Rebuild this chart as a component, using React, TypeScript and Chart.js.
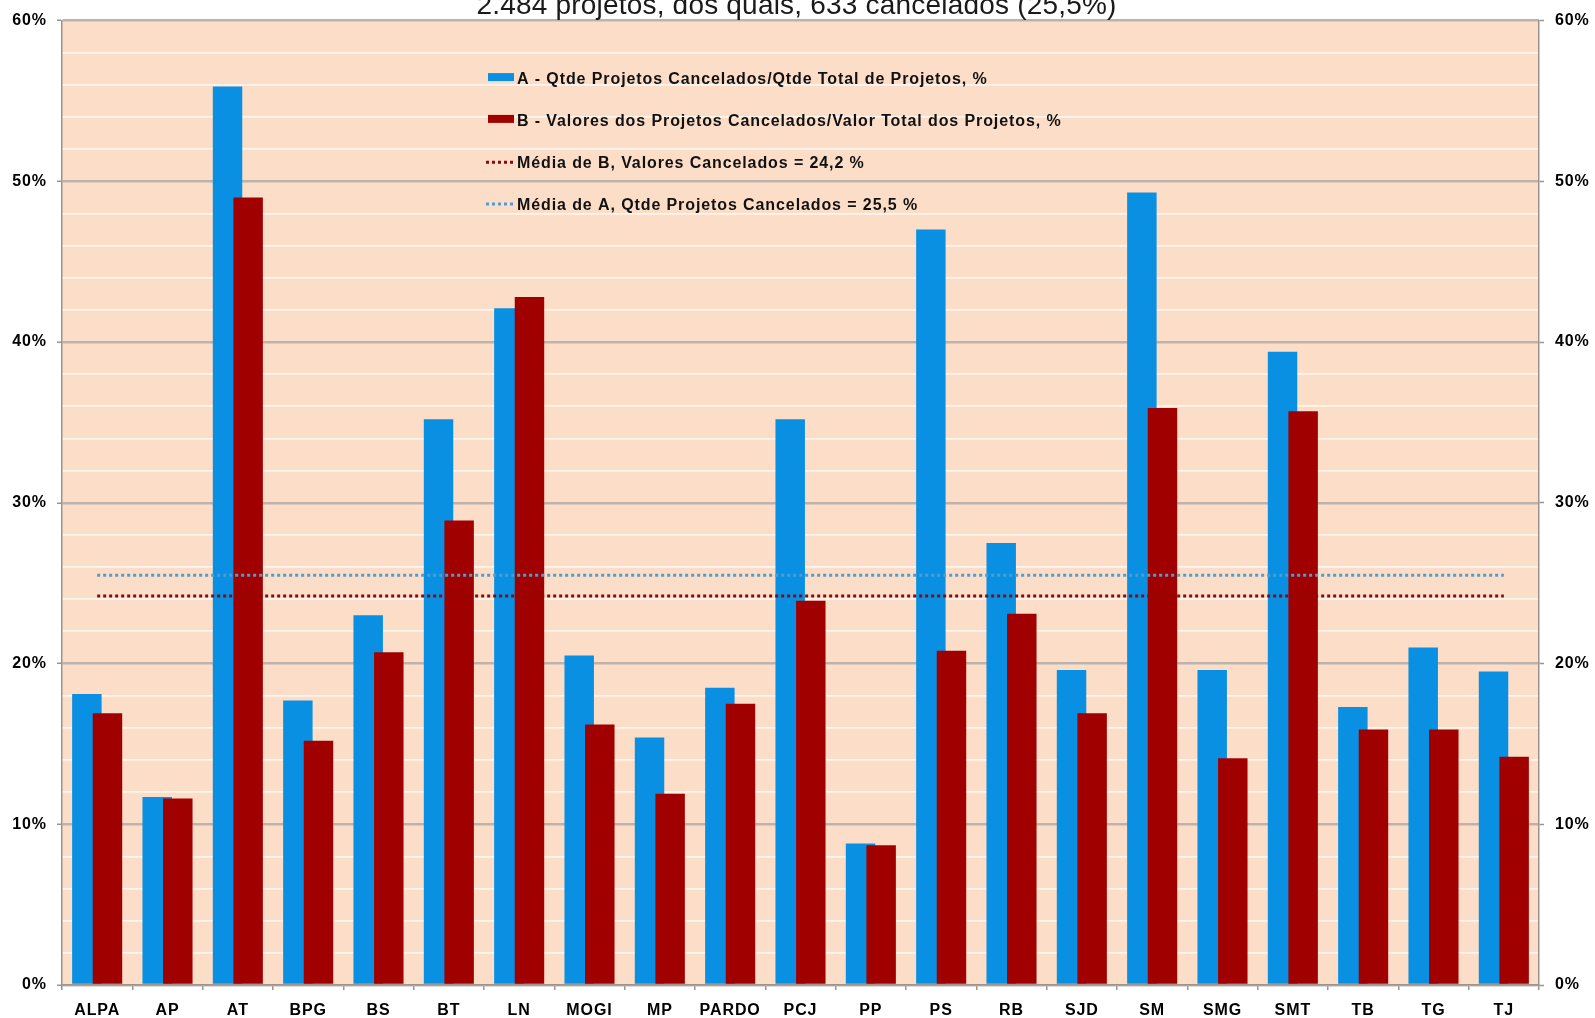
import React, { useEffect, useRef } from 'react';
import { Chart, registerables } from 'chart.js';

Chart.register(...registerables);

// ---------------- data ----------------
const categories = ['ALPA', 'AP', 'AT', 'BPG', 'BS', 'BT', 'LN', 'MOGI', 'MP', 'PARDO', 'PCJ', 'PP', 'PS', 'RB', 'SJD', 'SM', 'SMG', 'SMT', 'TB', 'TG', 'TJ'];
const seriesA = [18.1, 11.7, 55.9, 17.7, 23.0, 35.2, 42.1, 20.5, 15.4, 18.5, 35.2, 8.8, 47.0, 27.5, 19.6, 49.3, 19.6, 39.4, 17.3, 21.0, 19.5];
const seriesB = [16.9, 11.6, 49.0, 15.2, 20.7, 28.9, 42.8, 16.2, 11.9, 17.5, 23.9, 8.7, 20.8, 23.1, 16.9, 35.9, 14.1, 35.7, 15.9, 15.9, 14.2];
const meanA = 25.5;
const meanB = 24.2;
const yMin = 0;
const yMax = 60;
const yMajorStep = 10;
const yMinorStep = 2;

const titleText = '2.484 projetos, dos quais, 633 cancelados (25,5%)';
const labelA = 'A - Qtde Projetos Cancelados/Qtde Total de Projetos, %';
const labelB = 'B - Valores dos Projetos Cancelados/Valor Total dos Projetos, %';
const labelMeanB = 'Média de B, Valores Cancelados = ' + meanB.toFixed(1).replace('.', ',') + ' %';
const labelMeanA = 'Média de A, Qtde Projetos Cancelados = ' + meanA.toFixed(1).replace('.', ',') + ' %';

// ---------------- styles ----------------
const FONT = "'Liberation Sans', Arial, Helvetica, sans-serif";
const BLUE = '#0a90e2';
const RED = '#a10000';
const PEACH = '#fcdec8';
const GRID_MAJOR = '#bdb3ac';
const GRID_MINOR = '#fff5ec';
const AXIS = '#9a9490';
const MEAN_BLUE = '#4d9dd0';
const MEAN_RED = '#8c0808';
const LETTER = '0.9px';

const W = 1595;
const H = 1018;

const IDX_A = 0;
const IDX_B = 1;

const isMajor = (v: number) => Math.abs(v % yMajorStep) < 1e-9;

const setSpacing = (ctx: any) => {
  try { ctx.letterSpacing = LETTER; } catch (e) { /* ignore */ }
};

const decorPlugin = {
  id: 'decor',
  beforeLayout(chart: any) {
    setSpacing(chart.ctx);
  },
  beforeDraw(chart: any) {
    const { ctx, chartArea: a } = chart;
    setSpacing(ctx);
    ctx.save();
    ctx.fillStyle = '#ffffff';
    ctx.fillRect(0, 0, chart.width, chart.height);
    ctx.fillStyle = PEACH;
    ctx.fillRect(a.left, a.top, a.right - a.left, a.bottom - a.top);
    ctx.restore();
  },
  beforeDatasetDraw(chart: any, args: any) {
    if (args.index === IDX_B) return false;
    return true;
  },
  afterDatasetDraw(chart: any, args: any) {
    if (args.index === IDX_A) {
      const a = chart.chartArea;
      const ctx = chart.ctx;
      ctx.save();
      ctx.beginPath();
      ctx.rect(a.left, a.top, a.right - a.left, a.bottom - a.top);
      ctx.clip();
      chart.getDatasetMeta(IDX_B).controller.draw();
      ctx.restore();
    }
  },
  afterDraw(chart: any) {
    const ctx = chart.ctx;
    const a = chart.chartArea;
    ctx.save();
    // title (partly cut by the top edge)
    try { ctx.letterSpacing = '0.2px'; } catch (e) { /* ignore */ }
    ctx.font = `28px ${FONT}`;
    ctx.fillStyle = '#1a1a1a';
    ctx.textAlign = 'center';
    ctx.textBaseline = 'alphabetic';
    ctx.fillText(titleText, (a.left + a.right) / 2 - 4, 14);

    // legend inside the plot
    setSpacing(ctx);
    ctx.font = `bold 16px ${FONT}`;
    ctx.fillStyle = '#111111';
    ctx.textAlign = 'left';
    const sx = 488;
    const tx = 517;
    const rows = [
      { text: labelA, kind: 'box', color: BLUE },
      { text: labelB, kind: 'box', color: RED },
      { text: labelMeanB, kind: 'dot', color: MEAN_RED },
      { text: labelMeanA, kind: 'dot', color: MEAN_BLUE },
    ];
    const firstCenter = 78.6;
    const gap = 41.8;
    rows.forEach((r, i) => {
      const cy = firstCenter + i * gap;
      if (r.kind === 'box') {
        ctx.fillStyle = r.color;
        ctx.fillRect(sx, cy - 5.5, 26, 8);
      } else {
        ctx.strokeStyle = r.color;
        ctx.lineWidth = 3;
        ctx.setLineDash([3, 3]);
        ctx.beginPath();
        ctx.moveTo(sx - 2, cy);
        ctx.lineTo(sx + 26, cy);
        ctx.stroke();
        ctx.setLineDash([]);
      }
      ctx.fillStyle = '#111111';
      ctx.fillText(r.text, tx, cy + 5.7);
    });
    ctx.restore();
  },
};

const tickFont = { family: FONT, size: 16, weight: 'bold' as const };

export default function App() {
  const ref = useRef<HTMLCanvasElement | null>(null);

  useEffect(() => {
    document.body.style.margin = '0';
    const canvas = ref.current;
    if (!canvas) return;
    const chart = new Chart(canvas, {
      type: 'bar',
      data: {
        labels: categories,
        datasets: [
          {
            type: 'bar',
            label: labelA,
            data: seriesA,
            backgroundColor: BLUE,
            borderWidth: 0,
            order: 2,
            categoryPercentage: 0.586,
            barPercentage: 1.43,
            yAxisID: 'y',
          },
          {
            type: 'bar',
            label: labelB,
            data: seriesB,
            backgroundColor: RED,
            borderWidth: 0,
            order: 3,
            categoryPercentage: 0.586,
            barPercentage: 1.43,
            yAxisID: 'y',
          },
          {
            type: 'line',
            label: labelMeanB,
            data: categories.map(() => meanB),
            borderColor: MEAN_RED,
            borderWidth: 3,
            borderDash: [3, 3],
            pointRadius: 0,
            fill: false,
            order: 1,
            yAxisID: 'y',
          },
          {
            type: 'line',
            label: labelMeanA,
            data: categories.map(() => meanA),
            borderColor: MEAN_BLUE,
            borderWidth: 3,
            borderDash: [3, 3],
            pointRadius: 0,
            fill: false,
            order: 0,
            yAxisID: 'y',
          },
        ] as any,
      },
      options: {
        animation: false,
        responsive: false,
        maintainAspectRatio: false,
        devicePixelRatio: 1,
        layout: { padding: { top: 19.5, left: 0, right: 0, bottom: 0 } },
        plugins: {
          legend: { display: false },
          title: { display: false },
          tooltip: { enabled: false },
        },
        scales: {
          x: {
            type: 'category',
            offset: true,
            grid: {
              display: true,
              drawOnChartArea: false,
              offset: true,
              tickLength: 5,
              tickColor: AXIS,
              lineWidth: 1.5,
            },
            border: { display: true, color: AXIS, width: 1.5 },
            ticks: {
              font: tickFont,
              color: '#000000',
              padding: 11,
              maxRotation: 0,
              minRotation: 0,
              autoSkip: false,
            },
            afterFit: (s: any) => { s.height = 33; },
          },
          y: {
            type: 'linear',
            position: 'left',
            min: yMin,
            max: yMax,
            ticks: {
              stepSize: yMinorStep,
              maxTicksLimit: 100,
              autoSkip: false,
              callback: (v: any) => (isMajor(Number(v)) ? `${v}%` : ''),
              font: tickFont,
              color: '#000000',
              padding: 10,
            },
            grid: {
              color: (c: any) => (isMajor(c.tick.value) ? GRID_MAJOR : GRID_MINOR),
              lineWidth: (c: any) => (isMajor(c.tick.value) ? 2.5 : 1.8),
              tickColor: (c: any) => (isMajor(c.tick.value) ? AXIS : 'rgba(0,0,0,0)'),
              tickLength: 5,
              tickWidth: 1.5,
            },
            border: { display: true, color: AXIS, width: 1.5 },
            afterFit: (s: any) => { s.width = 62; },
          },
          y2: {
            type: 'linear',
            position: 'right',
            min: yMin,
            max: yMax,
            ticks: {
              stepSize: yMinorStep,
              maxTicksLimit: 100,
              autoSkip: false,
              callback: (v: any) => (isMajor(Number(v)) ? `${v}%` : ''),
              font: tickFont,
              color: '#000000',
              padding: 11,
            },
            grid: {
              drawOnChartArea: false,
              tickColor: (c: any) => (isMajor(c.tick.value) ? AXIS : 'rgba(0,0,0,0)'),
              tickLength: 5,
              tickWidth: 1.5,
            },
            border: { display: true, color: AXIS, width: 1.5 },
            afterFit: (s: any) => { s.width = 56; },
          },
        },
      } as any,
      plugins: [decorPlugin],
    });
    return () => chart.destroy();
  }, []);

  return (
    <div style={{ width: W, height: H, position: 'relative', background: '#ffffff' }}>
      <canvas ref={ref} width={W} height={H} style={{ display: 'block', width: W, height: H }} />
    </div>
  );
}
